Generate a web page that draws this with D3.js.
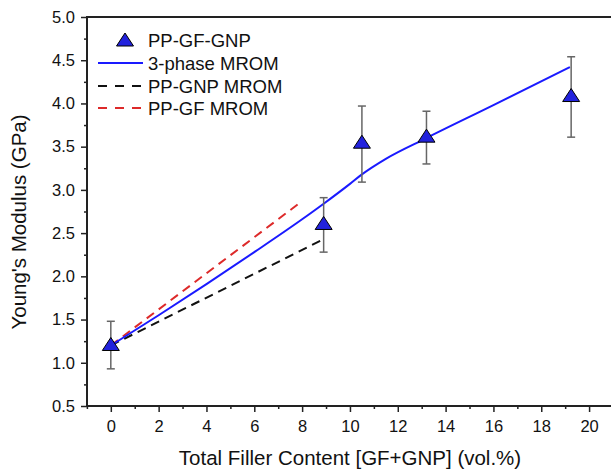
<!DOCTYPE html>
<html><head><meta charset="utf-8">
<script src="https://cdn.jsdelivr.net/npm/d3@7"></script>
<style>body{margin:0;background:#fff}svg{display:block}text{font-family:"Liberation Sans",Arial,sans-serif;fill:#111}</style>
</head><body>
<svg id="c" width="611" height="469"></svg>
<script>
// experimental data: PP-GF-GNP
const expX = [0, 8.9, 10.5, 13.2, 19.25];
const expY = [1.20, 2.60, 3.54, 3.61, 4.08];
const errLo = [0.93, 2.28, 3.09, 3.30, 3.61];
const errHi = [1.48, 2.91, 3.97, 3.91, 4.54];
// 3-phase MROM
const mromX = [0, 2, 4, 6, 8, 8.9, 10, 10.5, 11.5, 13.2, 16, 19.2];
const mromY = [1.20, 1.55, 1.91, 2.28, 2.66, 2.84, 3.07, 3.18, 3.36, 3.60, 3.98, 4.42];
// PP-GNP MROM
const gnpX = [0, 8.9];
const gnpY = [1.20, 2.43];
// PP-GF MROM
const gfX = [0, 8];
const gfY = [1.20, 2.87];
const xTicks = [0, 2, 4, 6, 8, 10, 12, 14, 16, 18, 20];
const yTicks = [0.5, 1.0, 1.5, 2.0, 2.5, 3.0, 3.5, 4.0, 4.5, 5.0];
const legendLabels = ["PP-GF-GNP", "3-phase MROM", "PP-GNP MROM", "PP-GF MROM"];

const svg = d3.select("#c");
const L = 87, T = 17, B = 406, R = 613;
const x = d3.scaleLinear().domain([-1, 21]).range([L - 0.1, R]);
const y = d3.scaleLinear().domain([0.5, 5.0]).range([B, T]);

const blue = "#1a1aff", red = "#dd2a2a", black = "#111";
const triFill = "#2222dd";

// lines
const line = d3.line().x(d => x(d[0])).y(d => y(d[1]));
const g = svg.append("g");
g.append("path").datum(gfX.map((v, i) => [v, gfY[i]])).attr("d", line)
  .attr("fill", "none").attr("stroke", red).attr("stroke-width", 2).attr("stroke-dasharray", "9,6");
g.append("path").datum(gnpX.map((v, i) => [v, gnpY[i]])).attr("d", line)
  .attr("fill", "none").attr("stroke", black).attr("stroke-width", 2).attr("stroke-dasharray", "9,6");
g.append("path").datum(mromX.map((v, i) => [v, mromY[i]])).attr("d", line.curve(d3.curveMonotoneX))
  .attr("fill", "none").attr("stroke", blue).attr("stroke-width", 2);

// error bars
const eg = svg.append("g").attr("stroke", "#666").attr("stroke-width", 1.5);
expX.forEach((v, i) => {
  const cx = x(v);
  eg.append("line").attr("x1", cx).attr("x2", cx).attr("y1", y(errHi[i])).attr("y2", y(errLo[i]));
  eg.append("line").attr("x1", cx - 4).attr("x2", cx + 4).attr("y1", y(errHi[i])).attr("y2", y(errHi[i]));
  eg.append("line").attr("x1", cx - 4).attr("x2", cx + 4).attr("y1", y(errLo[i])).attr("y2", y(errLo[i]));
});

// markers
const tri = "M0,-8 L8.5,5 L-8.5,5 Z";
svg.append("g").selectAll("path").data(expX).join("path")
  .attr("d", tri).attr("transform", (d, i) => `translate(${x(d)},${y(expY[i])})`)
  .attr("fill", triFill).attr("stroke", "#000").attr("stroke-width", 1);

// frame
svg.append("rect").attr("x", L).attr("y", T).attr("width", R - L).attr("height", B - T)
  .attr("fill", "none").attr("stroke", "#222").attr("stroke-width", 2);

// axes
const xa = svg.append("g").attr("transform", `translate(0,${B})`)
  .call(d3.axisBottom(x).tickValues(xTicks).tickSize(6).tickPadding(8).tickFormat(d3.format("d")));
const xm = svg.append("g").attr("transform", `translate(0,${B})`)
  .call(d3.axisBottom(x).tickValues(d3.range(-1, 22, 2)).tickSize(3).tickFormat(""));
const ya = svg.append("g").attr("transform", `translate(${L},0)`)
  .call(d3.axisLeft(y).tickValues(yTicks).tickSize(6).tickPadding(6).tickFormat(d3.format(".1f")));
const ym = svg.append("g").attr("transform", `translate(${L},0)`)
  .call(d3.axisLeft(y).tickValues(d3.range(0.75, 5, 0.5)).tickSize(3).tickFormat(""));
[xa, xm, ya, ym].forEach(a => {
  a.select(".domain").remove();
  a.selectAll(".tick line").attr("stroke", "#222").attr("stroke-width", 1.5);
  a.selectAll("text").attr("font-size", 16.5).attr("fill", "#111")
    .style("font-family", '"Liberation Sans", Arial, sans-serif');
});

// axis titles
svg.append("text").attr("x", (L + 611) / 2 + 1).attr("y", 465).attr("text-anchor", "middle")
  .attr("font-size", 20.5).text("Total Filler Content [GF+GNP] (vol.%)");
svg.append("text").attr("transform", `translate(26,${222}) rotate(-90)`).attr("text-anchor", "middle")
  .attr("font-size", 20.5).text("Young's Modulus (GPa)");

// legend
const lg = svg.append("g");
const rows = [40, 63, 86, 108];
lg.append("path").attr("d", tri).attr("transform", `translate(125,${rows[0] + 1})`)
  .attr("fill", triFill).attr("stroke", "#000").attr("stroke-width", 1);
lg.append("line").attr("x1", 98).attr("x2", 143).attr("y1", rows[1]).attr("y2", rows[1])
  .attr("stroke", blue).attr("stroke-width", 2);
lg.append("line").attr("x1", 98).attr("x2", 143).attr("y1", rows[2]).attr("y2", rows[2])
  .attr("stroke", black).attr("stroke-width", 2).attr("stroke-dasharray", "9,8");
lg.append("line").attr("x1", 98).attr("x2", 143).attr("y1", rows[3]).attr("y2", rows[3])
  .attr("stroke", red).attr("stroke-width", 2).attr("stroke-dasharray", "9,8");
legendLabels.forEach((t, i) => {
  lg.append("text").attr("x", 148).attr("y", rows[i] + 6.5).attr("font-size", 18.5).text(t);
});
</script>
</body></html>
